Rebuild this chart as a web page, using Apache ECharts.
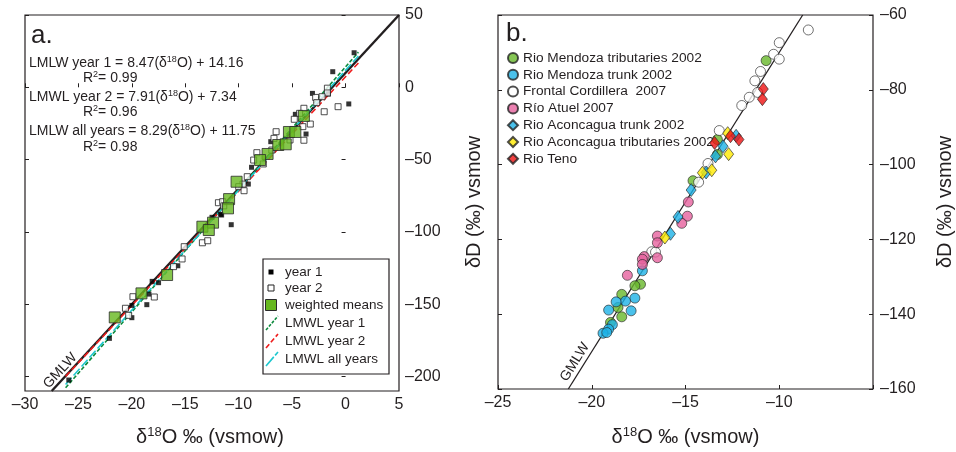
<!DOCTYPE html>
<html>
<head>
<meta charset="utf-8">
<script src="https://cdn.jsdelivr.net/npm/echarts@6/dist/echarts.min.js"></script>
<style>
  html, body { margin: 0; padding: 0; background: #ffffff; }
  #chart { width: 956px; height: 452px; }
</style>
</head>
<body>
<div id="chart"></div>
<script>
// ---- Panel a: precipitation, δ18O vs δD ----
const year1Points = [
  [0.8, 23.9], [-1.2, 10.8], [-3.1, -4.2], [0.3, -11.5], [-1.6, -4.6], [-4.7, -18.7],
  [-3.7, -32.3], [-7.0, -37.6], [-8.8, -55.3], [-9.1, -66.9], [-11.7, -87.8], [-10.7, -95.0],
  [-11.6, -88.3], [-12.5, -89.9], [-15.7, -123.4], [-18.1, -134.2], [-17.5, -135.1],
  [-18.4, -143.0], [-18.6, -150.3], [-20.0, -150.8], [-20.0, -159.3], [-22.1, -173.6], [-25.9, -202.4]
];
const year2Points = [
  [-1.7, -0.6], [-1.7, -3.9], [-2.8, -7.0], [-2.2, -6.5], [-0.7, -13.4], [-2.0, -16.9],
  [-2.7, -10.6], [-3.9, -14.5], [-4.3, -18.0], [-4.8, -22.1], [-3.3, -25.4], [-4.0, -27.2],
  [-6.5, -30.7], [-3.9, -36.6], [-5.2, -36.4], [-6.7, -35.3], [-6.9, -43.4], [-8.3, -45.2],
  [-8.6, -50.3], [-7.7, -53.0], [-9.2, -61.8], [-9.6, -66.9], [-10.0, -68.7], [-9.5, -71.5],
  [-11.9, -79.8], [-11.5, -79.1], [-11.4, -82.0], [-13.4, -107.5], [-12.9, -106.1],
  [-15.1, -110.2], [-15.3, -118.7], [-16.1, -124.0], [-17.9, -145.0], [-19.9, -144.8],
  [-20.6, -152.8], [-20.3, -157.7]
];
const weightedMeans = [
  [-3.9, -19.8], [-5.3, -30.9], [-4.7, -30.9], [-6.3, -39.9], [-5.6, -39.4], [-7.3, -46.1],
  [-8.0, -50.3], [-10.2, -65.3], [-10.9, -77.3], [-11.0, -83.7], [-13.4, -96.4],
  [-12.4, -93.6], [-12.8, -98.7], [-16.7, -129.8], [-19.1, -142.5], [-21.6, -159.1]
];

// Meteoric water lines: [slope, intercept]
const gmwl = [8, 10];
const lmwlYear1 = [8.47, 14.16];
const lmwlYear2 = [7.91, 7.34];
const lmwlAll = [8.29, 11.75];
const lmwlRange = [-26.2, 1.2];

const axisAX = [-30, 5, 5];
const axisAY = [-210, 50];
const tickAY = [-200, -150, -100, -50, 0, 50];

const equationLines = [
  'LMLW year 1 = 8.47(δ{s|18}O) + 14.16', 'R{s|2}= 0.99',
  'LMWL year 2 = 7.91(δ{s|18}O) + 7.34', 'R{s|2}= 0.96',
  'LMLW all years = 8.29(δ{s|18}O) + 11.75', 'R{s|2}= 0.98'
];
const legendALabels = ['year 1', 'year 2', 'weighted means', 'LMWL year 1', 'LMWL year 2', 'LMWL all years'];

// ---- Panel b: river waters ----
const mendozaTributaries = [
  [-10.7, -72.2], [-13.3, -93.3], [-13.3, -97.3], [-14.6, -104.3], [-17.4, -132.0],
  [-17.7, -132.4], [-18.4, -134.7], [-18.6, -138.2], [-18.4, -140.7], [-19.0, -142.2]
];
const mendozaTrunk = [
  [-17.3, -128.4], [-17.7, -135.7], [-18.2, -136.5], [-18.7, -136.7], [-19.1, -138.9],
  [-17.9, -139.1], [-18.9, -142.8], [-19.1, -144.0], [-19.4, -145.1], [-19.2, -144.9]
];
const frontalCordillera = [
  [-8.45, -64.0], [-10.0, -67.4], [-10.3, -70.5], [-10.0, -71.8], [-11.0, -75.1],
  [-11.3, -77.6], [-11.15, -80.7], [-11.6, -82.0], [-12.0, -84.2], [-13.2, -90.9],
  [-13.8, -99.7], [-14.3, -104.7], [-16.8, -123.3], [-16.6, -123.4]
];
const atuel = [
  [-14.85, -110.0], [-14.9, -113.8], [-15.2, -115.7], [-16.5, -119.1], [-16.5, -120.9],
  [-16.5, -124.9], [-17.2, -124.6], [-17.3, -125.3], [-17.3, -126.7], [-18.1, -129.6]
];
const aconcaguaTrunk = [
  [-12.3, -92.3], [-13.0, -95.1], [-13.4, -97.8], [-13.9, -102.1], [-14.7, -106.8],
  [-15.4, -114.0], [-15.8, -118.5]
];
const aconcaguaTributaries = [
  [-12.75, -91.6], [-12.7, -97.2], [-13.6, -101.5], [-14.1, -102.2], [-16.1, -119.5]
];
const teno = [
  [-10.85, -79.8], [-10.9, -82.5], [-12.6, -92.4], [-12.15, -93.3], [-13.45, -94.2]
];
const riverNames = [
  'Rio Mendoza tributaries 2002', 'Rio Mendoza trunk 2002', 'Frontal Cordillera  2007',
  'Río Atuel 2007', 'Rio Aconcagua trunk 2002', 'Rio Aconcagua tributaries 2002', 'Rio Teno'
];

const axisBX = [-25, -5, 5];
const axisBY = [-160, -60, 20];

// ---- styling ----
const FONT = '"Liberation Sans", Arial, Helvetica, sans-serif';
const INK = '#231f20';
const dash = v => (v < 0 ? '\u2013' + Math.abs(v) : String(v));
const lineFrom = (coef, x0, x1) => [[x0, coef[0] * x0 + coef[1]], [x1, coef[0] * x1 + coef[1]]];
// superscript token: tall bottom padding lifts the small digits to the cap line
const sup = (size, lift) => ({ s: { fontSize: size, padding: [0, 0, lift, 0], fontFamily: FONT, fill: INK, color: INK } });

const chart = echarts.init(document.getElementById('chart'), null, { renderer: 'canvas' });

const tickStyle = { show: true, inside: true, length: 4, lineStyle: { color: INK, width: 1 } };
const noLine = { show: false };
const TICK_FONT = 16;
const TITLE_FONT = 20;

const option = {
  animation: false,
  backgroundColor: '#ffffff',
  textStyle: { fontFamily: FONT, color: INK },
  grid: [
    { left: 25, top: 15, width: 374, height: 376, show: true, borderColor: INK, borderWidth: 1.2, containLabel: false },
    { left: 498, top: 15, width: 375, height: 374, show: true, borderColor: INK, borderWidth: 1.2, containLabel: false }
  ],
  xAxis: [
    {
      type: 'value', gridIndex: 0, min: axisAX[0], max: axisAX[1], interval: axisAX[2],
      axisLine: noLine, splitLine: noLine, axisTick: tickStyle,
      axisLabel: { fontSize: TICK_FONT, color: INK, margin: 6, formatter: dash }
    },
    {
      type: 'value', gridIndex: 1, min: axisBX[0], max: axisBX[1], interval: axisBX[2],
      axisLine: noLine, splitLine: noLine, axisTick: tickStyle,
      axisLabel: { fontSize: TICK_FONT, color: INK, margin: 6, formatter: v => (v === axisBX[1] ? '' : dash(v)) }
    }
  ],
  yAxis: [
    {
      type: 'value', gridIndex: 0, position: 'right', min: axisAY[0], max: axisAY[1],
      axisLine: noLine, splitLine: noLine,
      axisTick: Object.assign({}, tickStyle, { customValues: tickAY }),
      axisLabel: { fontSize: TICK_FONT, color: INK, margin: 6, customValues: tickAY, formatter: dash }
    },
    {
      type: 'value', gridIndex: 0, position: 'left', min: axisAY[0], max: axisAY[1],
      axisLine: noLine, splitLine: noLine,
      axisTick: Object.assign({}, tickStyle, { customValues: tickAY }),
      axisLabel: { show: false }
    },
    {
      type: 'value', gridIndex: 1, position: 'right', min: axisBY[0], max: axisBY[1], interval: axisBY[2],
      axisLine: noLine, splitLine: noLine, axisTick: tickStyle,
      axisLabel: { fontSize: TICK_FONT, color: INK, margin: 7, formatter: dash },
      name: 'δD (‰) vsmow', nameLocation: 'middle', nameGap: 62, nameRotate: 90,
      nameTextStyle: { fontSize: TITLE_FONT, color: INK, fontFamily: FONT }
    },
    {
      type: 'value', gridIndex: 1, position: 'left', min: axisBY[0], max: axisBY[1], interval: axisBY[2],
      axisLine: noLine, splitLine: noLine, axisTick: tickStyle,
      axisLabel: { show: false },
      name: 'δD (‰) vsmow', nameLocation: 'middle', nameGap: 14, nameRotate: 90,
      nameTextStyle: { fontSize: TITLE_FONT, color: INK, fontFamily: FONT }
    }
  ],
  legend: {
    data: riverNames,
    orient: 'vertical', left: 507, top: 51,
    itemWidth: 10, itemHeight: 10, itemGap: 2.8, padding: 0,
    selectedMode: false,
    textStyle: { fontSize: 13.7, color: INK, fontFamily: FONT, padding: [0, 0, 0, 0] }
  },
  series: [
    // panel a lines
    { type: 'line', name: 'GMWL a', xAxisIndex: 0, yAxisIndex: 0, data: lineFrom(gmwl, -27.5, 5),
      showSymbol: false, lineStyle: { color: INK, width: 2.4 }, z: 2, silent: true },
    { type: 'line', name: 'LMWL year 1', xAxisIndex: 0, yAxisIndex: 0, data: lineFrom(lmwlYear1, lmwlRange[0], lmwlRange[1]),
      showSymbol: false, lineStyle: { color: '#0b8a3c', width: 1.6, type: [4, 2] }, z: 3, silent: true },
    { type: 'line', name: 'LMWL year 2', xAxisIndex: 0, yAxisIndex: 0, data: lineFrom(lmwlYear2, lmwlRange[0], lmwlRange[1]),
      showSymbol: false, lineStyle: { color: '#ee1c1c', width: 1.6, type: [6, 3] }, z: 3, silent: true },
    { type: 'line', name: 'LMWL all years', xAxisIndex: 0, yAxisIndex: 0, data: lineFrom(lmwlAll, lmwlRange[0], lmwlRange[1]),
      showSymbol: false, lineStyle: { color: '#1ec8cf', width: 1.6, type: [9, 3] }, z: 3, silent: true },
    // panel a points
    { type: 'scatter', name: 'year 1', xAxisIndex: 0, yAxisIndex: 0, data: year1Points, symbol: 'rect', symbolSize: 5,
      itemStyle: { color: '#000000' }, z: 4 },
    { type: 'scatter', name: 'year 2', xAxisIndex: 0, yAxisIndex: 0, data: year2Points, symbol: 'rect', symbolSize: 6,
      itemStyle: { color: '#ffffff', borderColor: '#222222', borderWidth: 1 }, z: 4 },
    { type: 'scatter', name: 'weighted means', xAxisIndex: 0, yAxisIndex: 0, data: weightedMeans, symbol: 'rect', symbolSize: 11,
      itemStyle: { color: '#66b81f', borderColor: '#2a2a2a', borderWidth: 1 }, z: 5 },
    // panel b
    { type: 'line', name: 'GMWL b', xAxisIndex: 1, yAxisIndex: 2, data: lineFrom(gmwl, -21.25, -8.75),
      showSymbol: false, lineStyle: { color: INK, width: 1.3 }, z: 2, silent: true },
    { type: 'scatter', name: riverNames[0], xAxisIndex: 1, yAxisIndex: 2, data: mendozaTributaries, symbol: 'circle', symbolSize: 10,
      itemStyle: { color: '#68b82a', borderColor: '#222', borderWidth: 0.8 }, z: 4 },
    { type: 'scatter', name: riverNames[1], xAxisIndex: 1, yAxisIndex: 2, data: mendozaTrunk, symbol: 'circle', symbolSize: 10,
      itemStyle: { color: '#1db2e6', borderColor: '#222', borderWidth: 0.8 }, z: 4 },
    { type: 'scatter', name: riverNames[2], xAxisIndex: 1, yAxisIndex: 2, data: frontalCordillera, symbol: 'circle', symbolSize: 10,
      itemStyle: { color: '#ffffff', borderColor: '#222', borderWidth: 0.8 }, z: 4 },
    { type: 'scatter', name: riverNames[3], xAxisIndex: 1, yAxisIndex: 2, data: atuel, symbol: 'circle', symbolSize: 10,
      itemStyle: { color: '#e6619e', borderColor: '#222', borderWidth: 0.8 }, z: 4 },
    { type: 'scatter', name: riverNames[4], xAxisIndex: 1, yAxisIndex: 2, data: aconcaguaTrunk, symbol: 'diamond', symbolSize: [10, 13],
      itemStyle: { color: '#1db2e6', borderColor: '#222', borderWidth: 0.8 }, z: 5 },
    { type: 'scatter', name: riverNames[5], xAxisIndex: 1, yAxisIndex: 2, data: aconcaguaTributaries, symbol: 'diamond', symbolSize: [10, 13],
      itemStyle: { color: '#ffea00', borderColor: '#222', borderWidth: 0.8 }, z: 5 },
    { type: 'scatter', name: riverNames[6], xAxisIndex: 1, yAxisIndex: 2, data: teno, symbol: 'diamond', symbolSize: [10, 13],
      itemStyle: { color: '#ee1111', borderColor: '#222', borderWidth: 0.8 }, z: 5 }
  ]
};

chart.setOption(option);

// ---- annotations placed through the axes ----
const px = (grid, pt) => chart.convertToPixel({ gridIndex: grid }, pt);
const slopeAngle = grid => {
  const p0 = px(grid, [-20, gmwl[0] * -20 + gmwl[1]]);
  const p1 = px(grid, [-10, gmwl[0] * -10 + gmwl[1]]);
  return Math.atan2(p0[1] - p1[1], p1[0] - p0[0]);
};

const textEl = (x, y, text, size, extra) => ({
  type: 'text', x: x, y: y, silent: true,
  style: Object.assign({
    text: text, fontSize: size, fontFamily: FONT, fill: INK,
    textAlign: 'left', textVerticalAlign: 'middle', rich: sup(9, 7)
  }, extra || {})
});

const graphics = [];

// panel letters
graphics.push(textEl(31, 36, 'a.', 26));
graphics.push(textEl(506, 34, 'b.', 26));

// regression equations
const eqX = [29, 83, 29, 83, 29, 83];
const eqY = [63, 78, 97, 112, 131, 147];
equationLines.forEach((t, i) => graphics.push(textEl(eqX[i], eqY[i], t, 14)));

// x axis titles
const titleRich = { textAlign: 'center', rich: sup(13, 9) };
graphics.push(textEl(px(0, [-12.5, 0])[0] - 2, 437, 'δ{s|18}O ‰ (vsmow)', TITLE_FONT, titleRich));
graphics.push(textEl(px(1, [-15, -100])[0], 437, 'δ{s|18}O ‰ (vsmow)', TITLE_FONT, titleRich));

// GMWL labels along the line
const gA = px(0, [-26.7, -196]);
graphics.push({ type: 'text', x: gA[0], y: gA[1], rotation: slopeAngle(0), silent: true,
  style: { text: 'GMLW', fontSize: 14, fontFamily: FONT, fill: INK, textAlign: 'center', textVerticalAlign: 'middle' } });
const gB = px(1, [-20.9, -152.8]);
graphics.push({ type: 'text', x: gB[0], y: gB[1], rotation: slopeAngle(1), silent: true,
  style: { text: 'GMLW', fontSize: 14, fontFamily: FONT, fill: INK, textAlign: 'center', textVerticalAlign: 'middle' } });

// panel a legend box
const lgBox = { x: 263, y: 259, w: 126, h: 115 };
graphics.push({ type: 'rect', shape: { x: lgBox.x, y: lgBox.y, width: lgBox.w, height: lgBox.h }, silent: true,
  style: { fill: '#ffffff', stroke: INK, lineWidth: 1.2 }, z: 10 });
const lgRowY = [272, 288, 305, 323, 341, 359];
const lgTextX = 285;
const lgIconX = 271;
graphics.push({ type: 'rect', shape: { x: lgIconX - 2.5, y: lgRowY[0] - 2.5, width: 5, height: 5 }, silent: true,
  style: { fill: '#000000' }, z: 11 });
graphics.push({ type: 'rect', shape: { x: lgIconX - 3, y: lgRowY[1] - 3, width: 6, height: 6 }, silent: true,
  style: { fill: '#ffffff', stroke: '#222', lineWidth: 1 }, z: 11 });
graphics.push({ type: 'rect', shape: { x: lgIconX - 5.5, y: lgRowY[2] - 5.5, width: 11, height: 11 }, silent: true,
  style: { fill: '#66b81f', stroke: '#2a2a2a', lineWidth: 1 }, z: 11 });
const lgLineStyles = [
  { stroke: '#0b8a3c', lineDash: [3, 1.5] },
  { stroke: '#ee1c1c', lineDash: [5, 2.5] },
  { stroke: '#1ec8cf', lineDash: [12, 2] }
];
lgLineStyles.forEach((s, i) => {
  const cy = lgRowY[3 + i];
  graphics.push({ type: 'line', shape: { x1: lgIconX - 5, y1: cy + 7, x2: lgIconX + 7, y2: cy - 7 }, silent: true,
    style: { stroke: s.stroke, lineWidth: 1.6, lineDash: s.lineDash }, z: 11 });
});
legendALabels.forEach((t, i) => {
  const el = textEl(lgTextX, lgRowY[i], t, 13.5);
  el.z = 11;
  graphics.push(el);
});

chart.setOption({ graphic: graphics });
</script>
</body>
</html>
